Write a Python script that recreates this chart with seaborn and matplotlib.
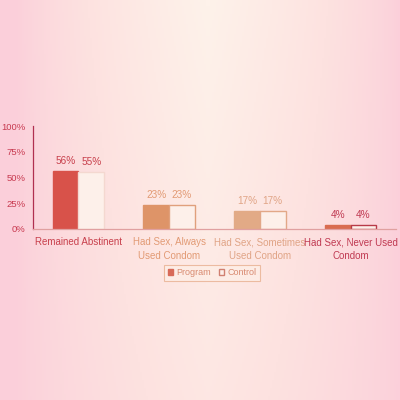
import numpy as np
import pandas as pd
import matplotlib
matplotlib.use('Agg')
import matplotlib.pyplot as plt
import seaborn as sns
from matplotlib.patches import Patch
from matplotlib.colors import LinearSegmentedColormap

# Data
categories = ['Remained Abstinent', 'Had Sex, Always\nUsed Condom',
              'Had Sex, Sometimes\nUsed Condom', 'Had Sex, Never Used\nCondom']
groups = ['Program', 'Control']
program_vals = [56, 23, 17, 4]
control_vals = [55, 23, 17, 4]
y_ticks = [0, 25, 50, 75, 100]

# colours per category (the reference has a warm gradient wash over it)
bar_colors = ['#d8524a', '#de9468', '#e2aa86', '#d96c50']
edge_colors = ['#f4d8d0', '#e0a07c', '#e2a888', '#b83a48']
text_colors = ['#c8404c', '#e29a74', '#e0a486', '#c03a52']

df = pd.DataFrame({
    'category': categories * 2,
    'group': [groups[0]] * 4 + [groups[1]] * 4,
    'value': program_vals + control_vals,
})

sns.set_style('white')
plt.rcParams['font.family'] = ['Liberation Sans', 'DejaVu Sans']

fig = plt.figure(figsize=(4, 4), dpi=100)

# background wash: pink at the sides, pale peach in the middle
bg = fig.add_axes([0, 0, 1, 1], zorder=-10)
xx = np.linspace(0, 1, 200)
yy = np.linspace(0, 1, 200)
X, Y = np.meshgrid(xx, yy)
t = np.clip(1 - np.abs(X - 0.52) / 0.48, 0, 1) ** 0.7 * (1 - 0.35 * Y)
cmap = LinearSegmentedColormap.from_list('wash', ['#fbcfda', '#fde2e0', '#fef2ea'])
bg.imshow(t, cmap=cmap, aspect='auto', extent=[0, 1, 0, 1], origin='upper')
bg.axis('off')

ax = fig.add_axes([0.0825, 0.4275, 0.9075, 0.2575])
ax.patch.set_alpha(0)

sns.barplot(data=df, x='category', y='value', hue='group', width=0.57,
            palette=['#d8524a', '#fdeee8'], ax=ax, legend=False)

for i, bar in enumerate(ax.containers[0]):
    bar.set_facecolor(bar_colors[i])
    bar.set_edgecolor(bar_colors[i])
for i, bar in enumerate(ax.containers[1]):
    bar.set_facecolor('#fdf0ea')
    bar.set_edgecolor(edge_colors[i])
    bar.set_linewidth(1.0)

for c in ax.containers:
    for i, bar in enumerate(c):
        h = bar.get_height()
        ax.text(bar.get_x() + bar.get_width() / 2, h + 5, f'{h:.0f}%',
                ha='center', va='bottom', fontsize=7.2, color=text_colors[i])

ax.set_xlim(-0.5, 3.5)
ax.set_ylim(0, 100)
ax.set_yticks(y_ticks)
ax.set_yticklabels([f'{v}%' for v in y_ticks], fontsize=6.8, color='#c83a50')
ax.set_xticks(range(4))
ax.set_xticklabels(categories, fontsize=7.0, linespacing=1.45)
for lbl, col in zip(ax.get_xticklabels(), text_colors):
    lbl.set_color(col)
ax.tick_params(axis='x', length=0, pad=6)
ax.set_xticks([0.5, 1.5, 2.5, 3.5], minor=True)
ax.tick_params(axis='x', which='minor', length=4, color='#c87880', direction='out')
ax.tick_params(axis='y', length=3, color='#b03050', direction='out', pad=2.5)
ax.set_xlabel('')
ax.set_ylabel('')

sns.despine(ax=ax)
ax.spines['left'].set_color('#b03050')
ax.spines['left'].set_linewidth(0.9)
ax.spines['bottom'].set_color('#e0a0a0')
ax.spines['bottom'].set_linewidth(0.9)

handles = [Patch(facecolor='#d86a58', edgecolor='#d86a58', label='Program'),
           Patch(facecolor='#fdefe9', edgecolor='#d08070', label='Control')]
leg = fig.legend(handles=handles, loc='center', bbox_to_anchor=(0.53, 0.318),
                 ncol=2, fontsize=6.5, frameon=True, fancybox=False,
                 handlelength=0.6, handleheight=0.6, handletextpad=0.3,
                 columnspacing=0.9, borderpad=0.4)
leg.get_frame().set_edgecolor('#e8b090')
leg.get_frame().set_facecolor('#fdeee6')
leg.get_frame().set_linewidth(0.8)
for txt in leg.get_texts():
    txt.set_color('#d88a70')

fig.savefig('out.png', dpi=100)
